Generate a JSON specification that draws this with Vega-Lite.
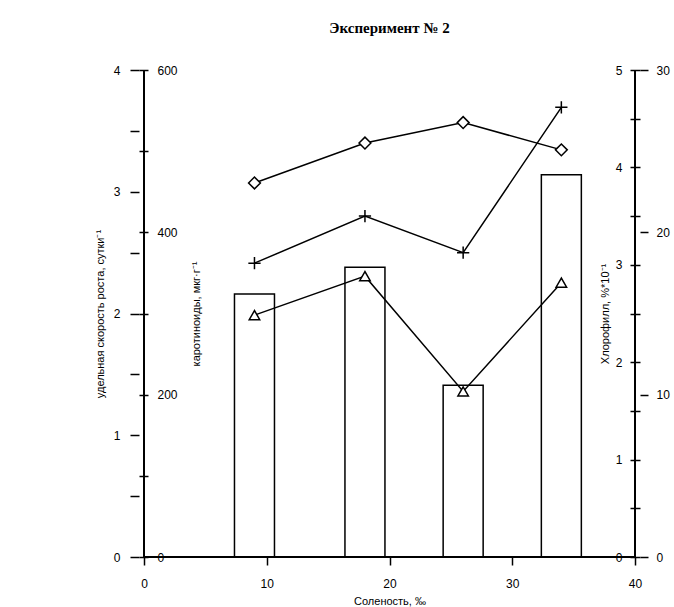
{
  "$schema": "https://vega.github.io/schema/vega-lite/v6.json",
  "width": 501,
  "height": 487,
  "autosize": {"type": "none"},
  "padding": {"left": 139, "top": 70, "right": 34, "bottom": 50},
  "background": "white",
  "title": {"text": "Эксперимент № 2", "font": "Liberation Serif", "fontSize": 15, "fontWeight": "bold", "anchor": "middle", "offset": 28, "color": "black"},
  "config": {
    "view": {"stroke": null},
    "axis": {"grid": false, "domain": false, "tickColor": "black", "labelColor": "black", "titleColor": "black", "labelFont": "Liberation Sans", "titleFont": "Liberation Sans", "labelFontSize": 12, "titleFontSize": 11, "titleFontWeight": "normal", "tickWidth": 1.5}
  },
  "data": {"values": [
    {"s": 9, "rate": 2.16, "car": 362, "chl": 3.84, "c30": 14.9},
    {"s": 18, "rate": 2.38, "car": 420, "chl": 4.25, "c30": 17.3},
    {"s": 26, "rate": 1.41, "car": 375, "chl": 4.46, "c30": 10.2},
    {"s": 34, "rate": 3.14, "car": 554, "chl": 4.18, "c30": 16.9}
  ]},
  "encoding": {
    "x": {"field": "s", "type": "quantitative", "scale": {"domain": [0, 40], "nice": false},
      "axis": {"orient": "bottom", "values": [0, 10, 20, 30, 40], "format": "d", "tickSize": 8, "labelPadding": 13, "title": "Соленость, ‰", "titlePadding": 6, "titleFontSize": 11}}
  },
  "layer": [
    {
      "encoding": {
        "y": {"field": "rate", "type": "quantitative", "scale": {"domain": [0, 4], "nice": false},
          "axis": {"orient": "left", "values": [0, 0.5, 1, 1.5, 2, 2.5, 3, 3.5, 4], "labelExpr": "datum.value % 1 ? '' : format(datum.value, 'd')", "tickSize": 9, "labelPadding": 10, "title": "удельная скорость роста, сутки⁻¹", "titlePadding": 8}}
      },
      "layer": [
        {"mark": {"type": "bar", "fill": "white", "stroke": "black", "strokeWidth": 1.5, "size": 40}},
        {"mark": {"type": "rule", "color": "black", "strokeWidth": 2},
         "encoding": {"x": {"datum": 0, "type": "quantitative"}, "y": {"datum": 0, "type": "quantitative"}, "y2": {"datum": 4}}},
        {"mark": {"type": "rule", "color": "black", "strokeWidth": 2},
         "encoding": {"x": {"datum": 40, "type": "quantitative"}, "y": {"datum": 0, "type": "quantitative"}, "y2": {"datum": 4}}},
        {"mark": {"type": "rule", "color": "black", "strokeWidth": 2},
         "encoding": {"x": {"datum": 0, "type": "quantitative"}, "x2": {"datum": 40}, "y": {"datum": 0, "type": "quantitative"}}}
      ]
    },
    {
      "mark": {"type": "line", "color": "black", "strokeWidth": 1.5, "point": {"shape": "M-1,0L1,0M0,-1L0,1", "filled": false, "size": 150, "color": "black", "strokeWidth": 1.5}},
      "encoding": {
        "y": {"field": "car", "type": "quantitative", "scale": {"domain": [0, 600], "nice": false},
          "axis": {"orient": "right", "offset": -501, "values": [0, 100, 200, 300, 400, 500, 600], "labelExpr": "datum.value % 200 ? '' : format(datum.value, 'd')", "tickSize": 9, "labelPadding": 9, "title": "каротиноиды, мкг·г⁻¹", "titleAngle": -90, "titlePadding": 24}}
      }
    },
    {
      "mark": {"type": "line", "color": "black", "strokeWidth": 1.5, "point": {"shape": "diamond", "filled": true, "fill": "white", "stroke": "black", "size": 140, "strokeWidth": 1.5}},
      "encoding": {
        "y": {"field": "chl", "type": "quantitative", "scale": {"domain": [0, 5], "nice": false},
          "axis": {"orient": "left", "offset": -501, "values": [0, 0.5, 1, 1.5, 2, 2.5, 3, 3.5, 4, 4.5, 5], "labelExpr": "datum.value % 1 ? '' : format(datum.value, 'd')", "tickSize": 10, "labelPadding": 8, "title": "Хлорофилл, %*10⁻¹", "titlePadding": 5}}
      }
    },
    {
      "mark": {"type": "line", "color": "black", "strokeWidth": 1.5, "point": {"shape": "triangle-up", "filled": true, "fill": "white", "stroke": "black", "size": 110, "strokeWidth": 1.5}},
      "encoding": {
        "y": {"field": "c30", "type": "quantitative", "scale": {"domain": [0, 30], "nice": false},
          "axis": {"orient": "right", "values": [0, 10, 20, 30], "format": "d", "tickSize": 8, "labelPadding": 8, "title": null}}
      }
    }
  ],
  "resolve": {"scale": {"y": "independent"}, "axis": {"y": "independent"}}
}
